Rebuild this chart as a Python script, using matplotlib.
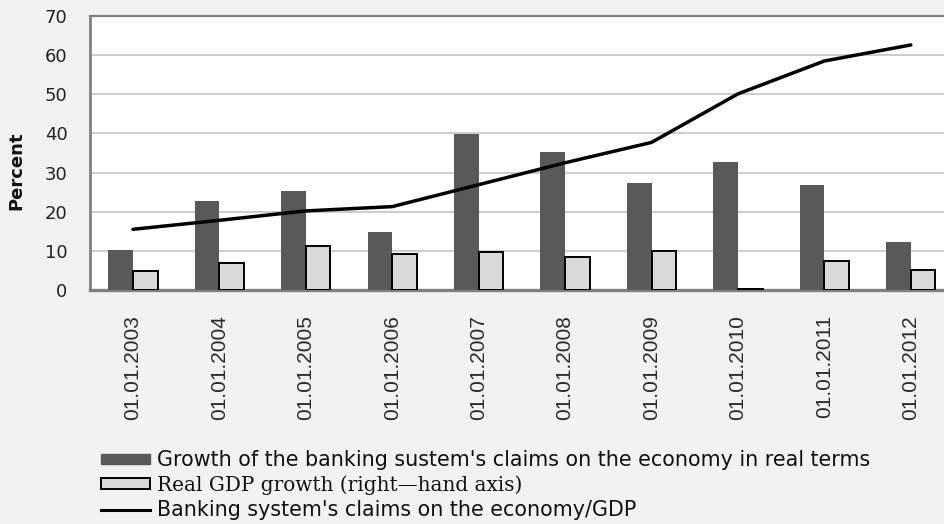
import numpy as np
import matplotlib.pyplot as plt
from matplotlib.patches import Patch
from matplotlib.lines import Line2D

dates = ['01.01.2003', '01.01.2004', '01.01.2005', '01.01.2006', '01.01.2007',
         '01.01.2008', '01.01.2009', '01.01.2010', '01.01.2011', '01.01.2012']
claims_growth = [10.2, 22.7, 25.4, 14.8, 39.9, 35.2, 27.4, 32.7, 26.9, 12.3]
gdp_growth = [4.9, 6.8, 11.2, 9.3, 9.7, 8.4, 10.0, 0.2, 7.5, 5.0]
claims_to_gdp = [15.5, 17.8, 20.2, 21.3, 26.9, 32.5, 37.7, 50.1, 58.5, 62.6]

lbl_claims = "Growth of the banking sustem's claims on the economy in real terms"
lbl_gdp = "Real GDP growth (right\u2014hand axis)"
lbl_ratio = "Banking system's claims on the economy/GDP"

fig = plt.figure(figsize=(9.44, 5.24), dpi=100)
fig.patch.set_facecolor('#f2f2f2')
ax = fig.add_axes([0.0951, 0.4466, 0.9155, 0.5229])
ax.set_facecolor('white')

x = np.arange(len(dates))
w = 0.285
ax.bar(x - w/2, claims_growth, w, color='#595959', zorder=3)
ax.bar(x + w/2, gdp_growth, w, color='#d9d9d9', edgecolor='black', linewidth=1.4, zorder=3)
ax.plot(x, claims_to_gdp, color='black', linewidth=2.5, solid_capstyle='round', zorder=4)

ax.set_xlim(-0.5, len(dates) - 0.5)
ax.set_ylim(0, 70)
ax.set_yticks(np.arange(0, 71, 10))
ax.yaxis.grid(True, color='#c8c8c8', linewidth=1.3, zorder=0)
ax.set_xticks(x)
ax.set_xticklabels(dates, rotation=90, fontsize=15, family='Liberation Sans', color='#2a2a2a')
ax.tick_params(axis='y', labelsize=13, length=0, pad=16, labelcolor='#222222')
ax.tick_params(axis='x', length=0, pad=18)
for t in ax.get_yticklabels():
    t.set_family('DejaVu Sans')

for s in ['left', 'bottom', 'top']:
    ax.spines[s].set_color('#808080')
ax.spines['left'].set_linewidth(2)
ax.spines['bottom'].set_linewidth(2.4)
ax.spines['top'].set_linewidth(1.6)
ax.spines['right'].set_visible(False)

ax.set_ylabel('Percent', fontsize=13, fontweight='bold', family='DejaVu Sans', color='#111111')
ax.yaxis.set_label_coords(-0.075, 0.434)

handles = [Patch(facecolor='#595959', edgecolor='#595959'),
           Patch(facecolor='#d9d9d9', edgecolor='black', linewidth=1.4),
           Line2D([0], [0], color='black', linewidth=2.2)]
leg = fig.legend(handles, [lbl_claims, lbl_gdp, lbl_ratio], loc='upper left',
                 bbox_to_anchor=(0.107, 0.141), frameon=False, fontsize=14.5,
                 handlelength=2.45, handleheight=0.45, handletextpad=0.35,
                 labelspacing=0.25, borderaxespad=0, borderpad=0)
fams = ['DejaVu Sans', 'DejaVu Serif', 'DejaVu Sans']
sizes = [14.9, 14.4, 14.9]
for t, f, s in zip(leg.get_texts(), fams, sizes):
    t.set_family(f)
    t.set_fontsize(s)
    t.set_color('#111111')

fig.savefig('out.png', dpi=100, facecolor=fig.get_facecolor())
